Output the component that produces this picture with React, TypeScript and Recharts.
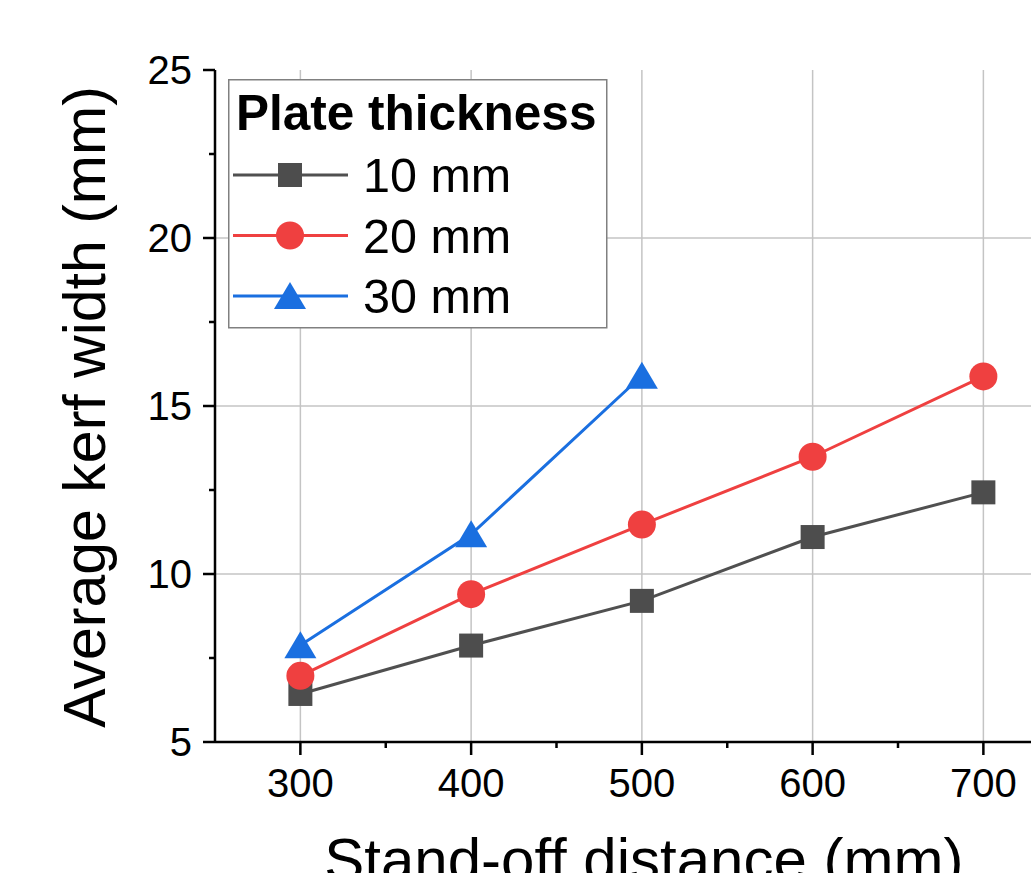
import React from 'react';
import { LineChart, Line, XAxis, YAxis, CartesianGrid, Legend, Label } from 'recharts';

// stand-off distance (mm)
const distances = [300, 400, 500, 600, 700];
// average kerf width (mm) per plate thickness
const kerf10 = [6.43, 7.87, 9.2, 11.1, 12.43];
const kerf20 = [6.97, 9.4, 11.47, 13.49, 15.88];
const kerf30 = [7.88, 11.18, 15.9];

const xTicks = [300, 350, 400, 450, 500, 550, 600, 650, 700, 750];
const xMajor = [300, 400, 500, 600, 700];
const yTicks = [5, 7.5, 10, 12.5, 15, 17.5, 20, 22.5, 25];
const yMajor = [5, 10, 15, 20, 25];
const yGrid = [10, 15, 20];

const FONT = "Arial, 'Liberation Sans', sans-serif";

const series = [
  { name: '10 mm', shape: 'square', color: '#4d4d4d', line: '#505050', values: kerf10 },
  { name: '20 mm', shape: 'circle', color: '#ef4040', line: '#ef4040', values: kerf20 },
  { name: '30 mm', shape: 'triangle', color: '#1a6fe0', line: '#1a6fe0', values: kerf30 },
];

const toPoints = (vals: number[]) => vals.map((v, i) => ({ x: distances[i], y: v }));

const Marker = ({ shape, cx, cy, color }: any) => {
  if (shape === 'square') return <rect x={cx - 12} y={cy - 12} width={24} height={24} fill={color} />;
  if (shape === 'circle') return <circle cx={cx} cy={cy} r={14} fill={color} />;
  return <polygon points={`${cx},${cy - 14} ${cx - 16},${cy + 13} ${cx + 16},${cy + 13}`} fill={color} />;
};

const BottomTick = (props: any) => {
  const { x, y, payload } = props;
  const major = xMajor.includes(payload.value);
  return (
    <g>
      <line x1={x} y1={y} x2={x} y2={y + (major ? 13 : 6)} stroke="#000" strokeWidth={2.5} />
      {major && (
        <text x={x} y={y + 55} textAnchor="middle" fontSize={40} fontFamily={FONT} fill="#000">
          {payload.value}
        </text>
      )}
    </g>
  );
};

const TopTick = (props: any) => {
  const { x, y, payload } = props;
  const major = xMajor.includes(payload.value);
  return <line x1={x} y1={y} x2={x} y2={y + (major ? 13 : 7)} stroke="#000" strokeWidth={2.5} />;
};

const LeftTick = (props: any) => {
  const { x, y, payload } = props;
  const major = yMajor.includes(payload.value);
  return (
    <g>
      <line x1={x} y1={y} x2={x - (major ? 12 : 6)} y2={y} stroke="#000" strokeWidth={2.5} />
      {major && (
        <text x={x - 23} y={y} dy="0.36em" textAnchor="end" fontSize={40} fontFamily={FONT} fill="#000">
          {payload.value}
        </text>
      )}
    </g>
  );
};

const LegendBox = () => (
  <svg width={380} height={250} style={{ display: 'block' }}>
    <rect x={0.75} y={0.75} width={378} height={248} fill="#fff" stroke="#808080" strokeWidth={1.5} />
    <text x={8} y={51} fontSize={49.5} fontWeight="bold" fontFamily={FONT} fill="#000">
      Plate thickness
    </text>
    {series.map((s, i) => {
      const cy = 96 + i * 60.5;
      return (
        <g key={s.name}>
          <line x1={5} y1={cy} x2={120} y2={cy} stroke={s.line} strokeWidth={3} />
          <Marker shape={s.shape} cx={62} cy={cy} color={s.color} />
          <text x={135} y={cy + 17} fontSize={48.5} fontFamily={FONT} fill="#000">
            {s.name}
          </text>
        </g>
      );
    })}
  </svg>
);

export default function App() {
  return (
    <div style={{ position: 'fixed', left: 0, top: 0, width: 1031, height: 873, overflow: 'hidden', background: '#fff' }}>
      <style>{'html, body { margin: 0; overflow: hidden; }'}</style>
      <LineChart width={1100} height={873} margin={{ top: 70, right: 31.25, left: 0, bottom: 0 }}>
        <CartesianGrid
          horizontal
          vertical
          horizontalValues={yGrid}
          verticalValues={xMajor}
          stroke="#c4c4c4"
          strokeWidth={1.5}
        />
        <XAxis
          dataKey="x"
          type="number"
          domain={[250, 750]}
          ticks={xTicks}
          interval={0}
          allowDataOverflow
          tick={<BottomTick />}
          tickLine={false}
          tickSize={0}
          tickMargin={0}
          height={131}
          axisLine={{ stroke: '#000', strokeWidth: 2.5 }}
        >
          <Label
            content={(p: any) => {
              const vb = p.viewBox;
              return (
                <text x={vb.x + vb.width / 2 + 2} y={vb.y + 138} textAnchor="middle" fontSize={60} fontFamily={FONT} fill="#000">
                  Stand-off distance (mm)
                </text>
              );
            }}
          />
        </XAxis>
        <XAxis
          xAxisId="top"
          orientation="top"
          type="number"
          domain={[250, 750]}
          ticks={xTicks}
          interval={0}
          allowDataOverflow
          tick={<TopTick />}
          tickLine={false}
          tickSize={0}
          tickMargin={0}
          height={0}
          axisLine={{ stroke: '#000', strokeWidth: 2.5 }}
        />
        <YAxis
          type="number"
          domain={[5, 25]}
          ticks={yTicks}
          interval={0}
          allowDataOverflow
          tick={<LeftTick />}
          tickLine={false}
          tickSize={0}
          tickMargin={0}
          width={215}
          axisLine={{ stroke: '#000', strokeWidth: 2.5 }}
        >
          <Label
            content={(p: any) => {
              const vb = p.viewBox;
              const cx = vb.x + 105;
              const cy = vb.y + vb.height / 2 + 1;
              return (
                <text
                  x={cx}
                  y={cy}
                  transform={`rotate(-90, ${cx}, ${cy})`}
                  textAnchor="middle"
                  fontSize={59}
                  fontFamily={FONT}
                  fill="#000"
                >
                  Average kerf width (mm)
                </text>
              );
            }}
          />
        </YAxis>
        <Legend
          layout="vertical"
          verticalAlign="middle"
          align="center"
          content={() => <LegendBox />}
          wrapperStyle={{ position: 'absolute', left: 228, top: 79, width: 380, height: 250 }}
        />
        {series.map((s) => (
          <Line
            key={s.name}
            name={s.name}
            data={toPoints(s.values)}
            dataKey="y"
            stroke={s.line}
            strokeWidth={3}
            isAnimationActive={false}
            dot={(p: any) => <Marker key={`${s.name}-${p.index}`} shape={s.shape} cx={p.cx} cy={p.cy} color={s.color} />}
            activeDot={false}
          />
        ))}
      </LineChart>
    </div>
  );
}
